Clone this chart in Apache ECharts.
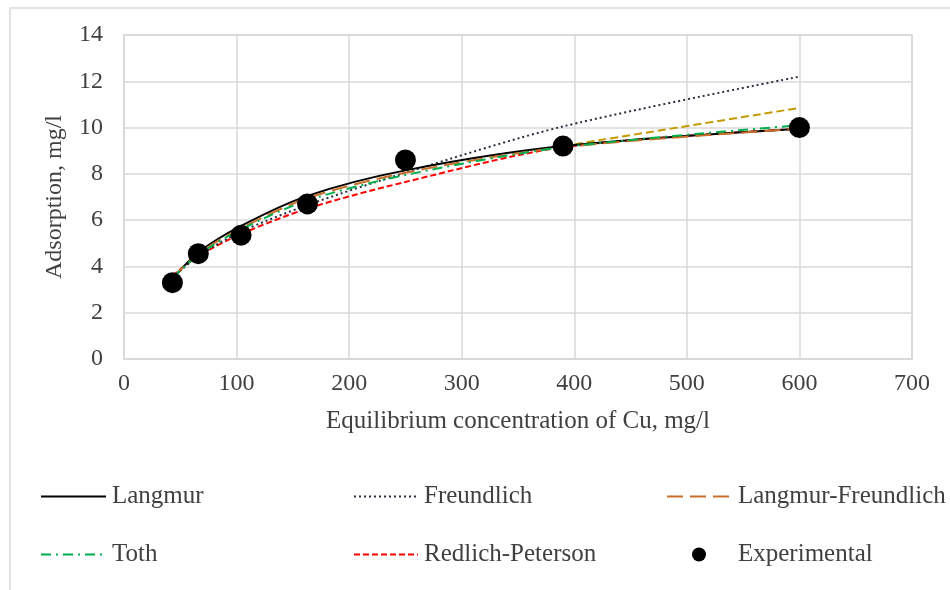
<!DOCTYPE html>
<html>
<head>
<meta charset="utf-8">
<script src="https://cdn.jsdelivr.net/npm/echarts@6/dist/echarts.min.js"></script>
<style>
  html, body { margin: 0; padding: 0; background: #fff; }
  #chart { width: 950px; height: 590px; }
</style>
</head>
<body>
<div id="chart"></div>
<script>
// concentrations of the samples, mg/l
const concentration = [43, 66, 104, 163, 250, 390, 600];
const experimental = [3.3, 4.55, 5.35, 6.7, 8.6, 9.2, 10.0];

// model curves read at the same concentrations
const langmuir = [3.45, 4.6, 5.75, 7.05, 8.15, 9.2, 9.95];
const freundlich = [3.5, 4.45, 5.5, 6.65, 8.05, 10.05, 12.2];
const langmuirFreundlich = [3.5, 4.55, 5.65, 6.95, 8.05, 9.15, 9.95];
const toth = [3.5, 4.5, 5.6, 6.85, 7.95, 9.15, 10.1];
const redlichPeterson = [3.6, 4.45, 5.4, 6.5, 7.65, 9.15, 9.95];
// extra dashed line seen only above 390 mg/l
const extraLine = [null, null, null, null, null, 9.2, 10.85];

const xTicks = [0, 100, 200, 300, 400, 500, 600, 700];
const yTicks = [0, 2, 4, 6, 8, 10, 12, 14];

function pairs(ys) {
  return concentration.map((c, i) => [c, ys[i]]);
}

const font = 'Liberation Serif, "Times New Roman", serif';
const fontSize = 25;
const textColor = '#404040';
const gridColor = '#d9d9d9';

function lineSeries(name, ys, color, type, width) {
  return {
    name: name,
    type: 'line',
    data: pairs(ys),
    smooth: 0.3,
    showSymbol: false,
    symbol: 'none',
    lineStyle: { color: color, width: width || 2, type: type },
    itemStyle: { color: color },
    emphasis: { disabled: true },
    z: 3
  };
}

function legendAt(name, left, top, w, isLine, textPad) {
  const item = { name: name };
  if (isLine) item.itemStyle = { opacity: 0 };
  return {
    data: [item],
    left: left,
    top: top,
    padding: 0,
    itemWidth: w,
    itemHeight: 14,
    itemGap: 0,
    selectedMode: false,
    textStyle: { fontFamily: font, fontSize: fontSize, color: textColor, padding: [0, 0, 0, textPad || 1] }
  };
}

const chart = echarts.init(document.getElementById('chart'));
chart.setOption({
  animation: false,
  backgroundColor: '#fff',
  graphic: [{
    type: 'rect',
    shape: { x: 10, y: 8, width: 960, height: 600 },
    style: { fill: 'none', stroke: gridColor, lineWidth: 1.5 },
    silent: true
  }],
  grid: { left: 124, right: 38, top: 35, bottom: 231, show: true, borderColor: gridColor, borderWidth: 1.5 },
  xAxis: {
    type: 'value',
    min: xTicks[0],
    max: xTicks[xTicks.length - 1],
    interval: 100,
    name: 'Equilibrium concentration of Cu, mg/l',
    nameLocation: 'middle',
    nameGap: 50,
    nameTextStyle: { fontFamily: font, fontSize: fontSize, color: textColor },
    axisLine: { show: true, lineStyle: { color: gridColor, width: 1.5 } },
    axisTick: { show: false },
    axisLabel: { margin: 13, fontFamily: font, fontSize: 24, color: textColor },
    splitLine: { show: true, lineStyle: { color: gridColor, width: 1.5 } }
  },
  yAxis: {
    type: 'value',
    min: yTicks[0],
    max: yTicks[yTicks.length - 1],
    interval: 2,
    name: 'Adsorption, mg/l',
    nameLocation: 'middle',
    nameGap: 57,
    nameTextStyle: { fontFamily: font, fontSize: 24, color: textColor },
    axisLine: { show: true, lineStyle: { color: gridColor, width: 1.5 } },
    axisTick: { show: false },
    axisLabel: { margin: 21, fontFamily: font, fontSize: 24, color: textColor },
    splitLine: { show: true, lineStyle: { color: gridColor, width: 1.5 } }
  },
  legend: [
    legendAt('Langmur', 40, 484, 65, true),
    legendAt('Freundlich', 353, 484, 64, true),
    legendAt('Langmur-Freundlich', 666, 484, 65, true),
    legendAt('Toth', 40, 542, 65, true),
    legendAt('Redlich-Peterson', 353, 542, 64, true),
    legendAt('Experimental', 692, 542, 14, false, 27)
  ],
  series: [
    lineSeries('Redlich-Peterson', redlichPeterson, '#ff0000', [6, 3]),
    lineSeries('extra', extraLine, '#c49a00', [8, 4]),
    lineSeries('Freundlich', freundlich, '#262f3d', [2, 3]),
    lineSeries('Langmur', langmuir, '#000000', 'solid'),
    lineSeries('Langmur-Freundlich', langmuirFreundlich, '#c8702b', [16, 7]),
    lineSeries('Toth', toth, '#00b050', [10, 5, 2, 5]),
    {
      name: 'Experimental',
      type: 'scatter',
      data: pairs(experimental),
      symbol: 'circle',
      symbolSize: 21,
      itemStyle: { color: '#000', opacity: 1 },
      emphasis: { disabled: true },
      z: 5
    }
  ]
});
</script>
</body>
</html>
